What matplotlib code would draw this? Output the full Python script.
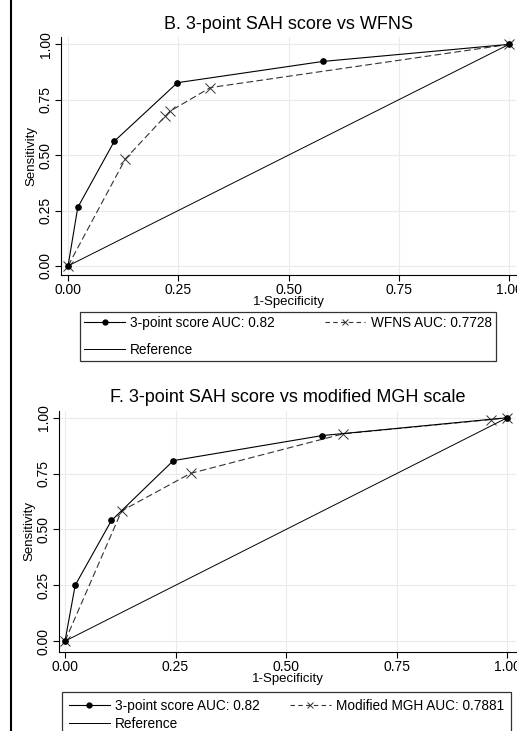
import numpy as np
import matplotlib.pyplot as plt
from matplotlib.lines import Line2D

plt.rcParams['font.family'] = ['Liberation Sans', 'DejaVu Sans']

# ── Data ─────────────────────────────────────────────────────────────────
ticks = [0.0, 0.25, 0.5, 0.75, 1.0]
tick_labels = ['0.00', '0.25', '0.50', '0.75', '1.00']

# Panel B
b_score_x = [0.0, 0.022, 0.105, 0.248, 0.578, 1.0]
b_score_y = [0.0, 0.264, 0.563, 0.827, 0.923, 1.0]
b_wfns_x = [0.0, 0.130, 0.221, 0.231, 0.323, 1.0]
b_wfns_y = [0.0, 0.483, 0.677, 0.698, 0.805, 1.0]

# Panel F
f_score_x = [0.0, 0.023, 0.105, 0.245, 0.581, 1.0]
f_score_y = [0.0, 0.250, 0.540, 0.808, 0.920, 1.0]
f_mgh_x = [0.0, 0.128, 0.284, 0.629, 0.963, 1.0]
f_mgh_y = [0.0, 0.583, 0.751, 0.928, 0.992, 1.0]

ref_x = [0.0, 1.0]
ref_y = [0.0, 1.0]

panels = [
    dict(title='B. 3-point SAH score vs WFNS',
         sx=b_score_x, sy=b_score_y, cx=b_wfns_x, cy=b_wfns_y,
         score_lab='3-point score AUC: 0.82', comp_lab='WFNS AUC: 0.7728',
         rect=[61/517, 0.6238, 455/517, 0.3252],
         xlim=(-0.016, 1.016), ylim=(-0.041, 1.032),
         leg=(80/517, 1 - 312/731, 416/517), spacing=0.95, bpad=0.3),
    dict(title='F. 3-point SAH score vs modified MGH scale',
         sx=f_score_x, sy=f_score_y, cx=f_mgh_x, cy=f_mgh_y,
         score_lab='3-point score AUC: 0.82', comp_lab='Modified MGH AUC: 0.7881',
         rect=[59/517, 0.108, 457/517, 0.330],
         xlim=(-0.0136, 1.02), ylim=(-0.049, 1.031),
         leg=(62/517, 1 - 692/731, 449/517), spacing=0.3, bpad=0.5),
]

fig = plt.figure(figsize=(5.17, 7.31), dpi=100)

for p in panels:
    ax = fig.add_axes(p['rect'])
    ax.plot(p['sx'], p['sy'], '-', color='black', lw=0.8,
            marker='o', markersize=3.8, zorder=4)
    ax.plot(p['cx'], p['cy'], '--', color='#333333', lw=0.8, dashes=(6, 3),
            marker='x', markersize=6.5, markeredgewidth=0.7, zorder=3)
    ax.plot(ref_x, ref_y, '-', color='black', lw=0.7, zorder=2)

    ax.set_xlim(*p['xlim'])
    ax.set_ylim(*p['ylim'])
    ax.set_xticks(ticks, tick_labels)
    ax.set_yticks(ticks, tick_labels)
    ax.tick_params(axis='both', labelsize=10, length=4, width=0.8, pad=2)
    for lab in ax.get_yticklabels():
        lab.set_rotation(90)
        lab.set_va('center')
    ax.grid(True, color='#ebebeb', lw=0.8)
    ax.set_axisbelow(True)
    for s in ('top', 'right'):
        ax.spines[s].set_visible(False)
    ax.spines['left'].set_linewidth(0.8)
    ax.spines['bottom'].set_linewidth(0.8)
    ax.set_xlabel('1-Specificity', fontsize=9.5, labelpad=-1)
    ax.set_ylabel('Sensitivity', fontsize=9.5, labelpad=1)
    ax.set_title(p['title'], fontsize=13, pad=6)

    handles = [
        Line2D([], [], color='black', lw=0.8, marker='o', markersize=3.5),
        Line2D([], [], color='black', lw=0.7),
        Line2D([], [], color='#333333', lw=0.8, ls='--', dashes=(4, 3),
               marker='x', markersize=5, markeredgewidth=0.7),
    ]
    labels = [p['score_lab'], 'Reference', p['comp_lab']]
    x0, ytop, w = p['leg']
    leg = fig.legend(handles, labels, ncol=2, loc='upper left',
                     bbox_to_anchor=(x0, ytop - 0.2, w, 0.2), mode='expand',
                     fontsize=9.8, frameon=True, fancybox=False, framealpha=1,
                     edgecolor='#333333', handlelength=3.0, handletextpad=0.4,
                     borderpad=p['bpad'], labelspacing=p['spacing'],
                     columnspacing=1.0, borderaxespad=0)
    leg.get_frame().set_linewidth(0.9)

# left frame edge of the original graph region
fig.add_artist(Line2D([11/517, 11/517], [0, 1], color='black', lw=1.5))

fig.savefig('out.png', dpi=100)
